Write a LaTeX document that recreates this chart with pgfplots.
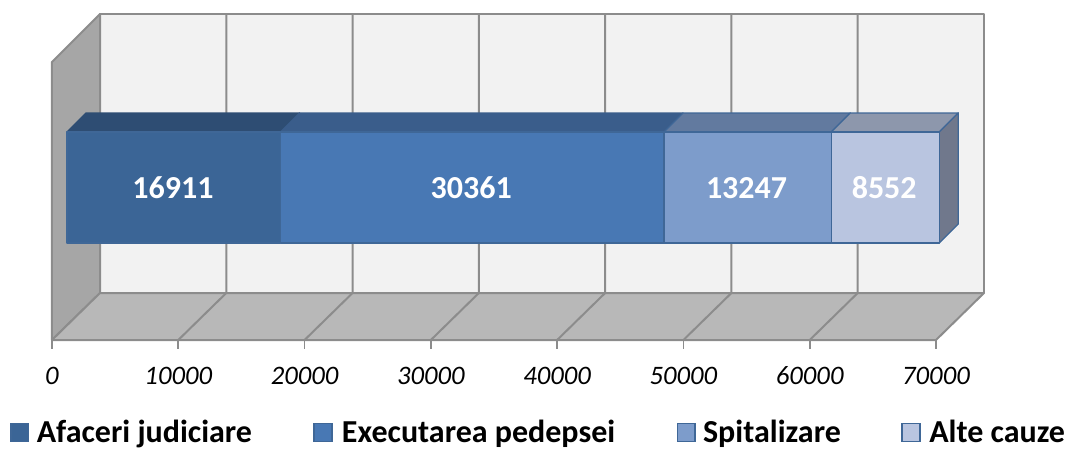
\documentclass[border=0pt]{standalone}
\usepackage{fontspec}
\setmainfont{Carlito}
\usepackage{pgfplots}
\pgfplotsset{compat=1.18}

\definecolor{wall}{HTML}{F2F2F2}
\definecolor{sidewall}{HTML}{A6A6A6}
\definecolor{floorc}{HTML}{B8B8B8}
\definecolor{gridc}{HTML}{8C8C8C}
\definecolor{edge}{HTML}{3F6797}
\definecolor{fa}{HTML}{3B6596}
\definecolor{ta}{HTML}{2E4D73}
\definecolor{fb}{HTML}{4878B4}
\definecolor{tb}{HTML}{3A5D8B}
\definecolor{fc}{HTML}{7D9CCB}
\definecolor{tc}{HTML}{627A9F}
\definecolor{fd}{HTML}{B9C5E0}
\definecolor{td}{HTML}{8D97AC}
\definecolor{sd}{HTML}{70788C}

\pgfplotsset{
  poly/.style={forget plot, mark=none, line join=round},
  swatch/.style={legend image code/.code={
    \draw[fill=#1, draw=edge, line width=1pt] (0pt,-6.7pt) rectangle (13.4pt,6.7pt);}},
}

\begin{document}
\begin{tikzpicture}
\begin{axis}[
    scale only axis,
    width=663pt,
    height=208.5pt,
    xmin=0, xmax=70000,
    ymin=0, ymax=278,
    clip=false,
    axis x line=bottom,
    axis y line=none,
    axis line style={gridc, line width=1.5pt, -},
    xtick={0,10000,20000,30000,40000,50000,60000,70000},
    scaled x ticks=false,
    tick align=outside,
    major tick length=6.5pt,
    x tick style={gridc, line width=1.2pt},
    xticklabel style={font=\fontsize{20}{22}\selectfont\itshape, yshift=-10pt, text=black},
    /pgf/number format/.cd, 1000 sep={}, assume math mode=true,
    /pgfplots/legend columns=4,
    /pgfplots/legend style={
      draw=none, fill=none,
      inner xsep=0pt,
      at={(-31.5pt,-69.5pt)}, anchor=west,
      font=\fontsize{24}{28}\selectfont\bfseries,
      /tikz/every even column/.style={},
      /tikz/column 1/.style={column sep=3.5pt},
      /tikz/column 2/.style={column sep=44pt},
      /tikz/column 3/.style={column sep=5pt},
      /tikz/column 4/.style={column sep=44pt},
      /tikz/column 5/.style={column sep=3.5pt},
      /tikz/column 6/.style={column sep=43.5pt},
      /tikz/column 7/.style={column sep=4.5pt},
    },
]

% walls and floor (x in data units, y in depth units)
\addplot[poly, fill=wall, draw=gridc, line width=1.5pt] coordinates {(3801,47) (73801,47) (73801,326) (3801,326)} -- cycle;
\addplot[poly, fill=sidewall, draw=gridc, line width=1.5pt] coordinates {(0,0) (3801,47) (3801,326) (0,278)} -- cycle;
\addplot[poly, fill=floorc, draw=gridc, line width=1.5pt] coordinates {(0,0) (70000,0) (73801,47) (3801,47)} -- cycle;

% grid on back wall and floor
\addplot[poly, gridc, line width=1.5pt] coordinates {(10000,0) (13801,47) (13801,326)};
\addplot[poly, gridc, line width=1.5pt] coordinates {(20000,0) (23801,47) (23801,326)};
\addplot[poly, gridc, line width=1.5pt] coordinates {(30000,0) (33801,47) (33801,326)};
\addplot[poly, gridc, line width=1.5pt] coordinates {(40000,0) (43801,47) (43801,326)};
\addplot[poly, gridc, line width=1.5pt] coordinates {(50000,0) (53801,47) (53801,326)};
\addplot[poly, gridc, line width=1.5pt] coordinates {(60000,0) (63801,47) (63801,326)};

% top faces
\addplot[poly, fill=ta, draw=ta, line width=1pt] coordinates {(1188,208) (2693,227) (19604,227) (18099,208)} -- cycle;
\addplot[poly, fill=tb, draw=tb, line width=1pt] coordinates {(18099,208) (19604,227) (49965,227) (48460,208)} -- cycle;
\addplot[poly, fill=tc, draw=edge, line width=1pt] coordinates {(48460,208) (49965,227) (63212,227) (61707,208)} -- cycle;
\addplot[poly, fill=td, draw=edge, line width=1pt] coordinates {(61707,208) (63212,227) (71764,227) (70259,208)} -- cycle;
% right side
\addplot[poly, fill=sd, draw=edge, line width=1pt] coordinates {(70259,97) (71764,116) (71764,227) (70259,208)} -- cycle;
% front faces: 16911, 30361, 13247, 8552 stacked
\addplot[poly, fill=fa, draw=edge, line width=1pt] coordinates {(1188,97) (18099,97) (18099,208) (1188,208)} -- cycle;
\addplot[poly, fill=fb, draw=edge, line width=1pt] coordinates {(18099,97) (48460,97) (48460,208) (18099,208)} -- cycle;
\addplot[poly, fill=fc, draw=edge, line width=1pt] coordinates {(48460,97) (61707,97) (61707,208) (48460,208)} -- cycle;
\addplot[poly, fill=fd, draw=edge, line width=1pt] coordinates {(61707,97) (70259,97) (70259,208) (61707,208)} -- cycle;

% value labels
\begin{scope}[every node/.style={text=white, font=\fontsize{24}{28}\selectfont\bfseries}]
\node at (axis cs:9580,152) {16911};
\node at (axis cs:33200,152) {30361};
\node at (axis cs:55000,152) {13247};
\node at (axis cs:65900,152) {8552};
\end{scope}

\addlegendimage{swatch=fa}
\addlegendentry{Afaceri judiciare}
\addlegendimage{swatch=fb}
\addlegendentry{Executarea pedepsei}
\addlegendimage{swatch=fc}
\addlegendentry{Spitalizare}
\addlegendimage{swatch=fd}
\addlegendentry{Alte cauze}
\end{axis}
\path[use as bounding box] (-39pt,-79.5pt) rectangle (762pt,255pt);
\end{tikzpicture}
\end{document}
